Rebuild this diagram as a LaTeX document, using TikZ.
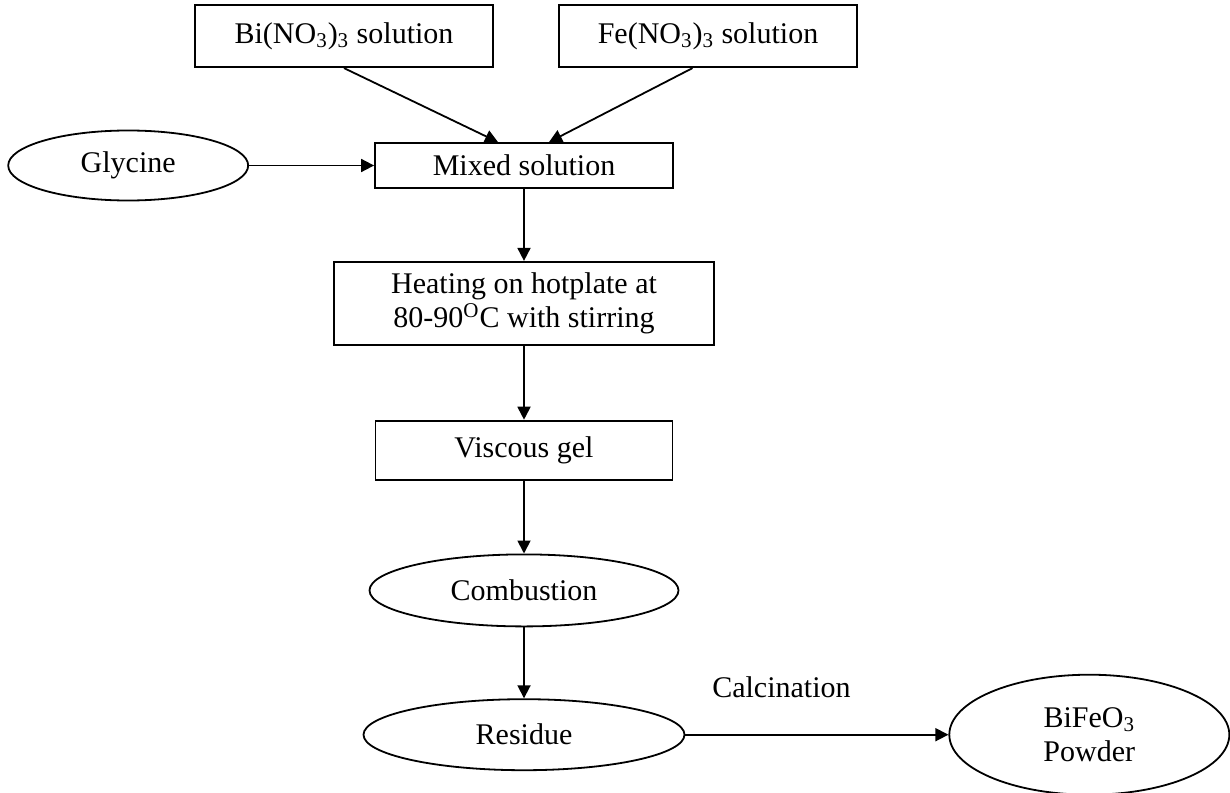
\documentclass[tikz,border=0pt]{standalone}
\usepackage{fontspec}
\setmainfont{Liberation Serif}
\usetikzlibrary{
  arrows.meta,
  shapes.geometric,
  positioning,
  calc
}
\tikzset{
  fcnode/.style={
    draw, line width=0.9pt, inner sep=2pt, align=center,
    font=\fontsize{15}{17}\selectfont
  },
  fcbox/.style={fcnode, rectangle},
  fcoval/.style={fcnode, ellipse, inner sep=0pt},
  fcflow/.style={-{Triangle[length=6.5pt, width=6.5pt]}, line width=0.9pt},
  fctag/.style={font=\fontsize{15}{17}\selectfont, inner sep=1pt}
}

\begin{document}
\begin{tikzpicture}[node distance=36pt]
  \useasboundingbox (0,0) rectangle (615pt,-396pt);
  \node[fcbox, minimum width=149pt, minimum height=22.5pt] (mix) at (262pt,-82.75pt) {Mixed solution};
  \node[fcbox, minimum width=149pt, minimum height=31pt, above=37pt of mix, xshift=-90pt] (bino)
    {Bi(NO\textsubscript{3})\textsubscript{3} solution};
  \node[fcbox, minimum width=149pt, minimum height=31pt, above=37pt of mix, xshift=92pt] (feno)
    {Fe(NO\textsubscript{3})\textsubscript{3} solution};
  \node[fcoval, minimum width=120pt, minimum height=35pt, left=62.5pt of mix] (gly) {Glycine};
  \node[fcbox, minimum width=190pt, minimum height=41.5pt, below=of mix] (heat)
    {Heating on hotplate at\\80-90\textsuperscript{O}C with stirring};
  \node[fcbox, minimum width=148.5pt, minimum height=29.5pt, below=37pt of heat] (gel) {Viscous gel};
  \node[fcoval, minimum width=154.5pt, minimum height=36pt, below=36.5pt of gel] (comb) {Combustion};
  \node[fcoval, minimum width=160.5pt, minimum height=35.5pt, below=35.5pt of comb] (res) {Residue};
  \node[fcoval, minimum width=140pt, minimum height=60pt, right=131.5pt of res] (bfo)
    {BiFeO\textsubscript{3}\\Powder};
  \node[fctag] (calc) at ($(res.east)+(48pt,23.5pt)$) {Calcination};

  \draw[fcflow] (bino.south) -- ($(mix.north)+(-13pt,0)$);
  \draw[fcflow] ($(feno.south)+(-7.75pt,0)$) -- ($(mix.north)+(12.5pt,0)$);
  \draw[fcflow] (gly.east) -- (mix.west);
  \draw[fcflow] (mix) -- (heat);
  \draw[fcflow] (heat) -- (gel);
  \draw[fcflow] (gel) -- (comb);
  \draw[fcflow] (comb) -- (res);
  \draw[fcflow] (res) -- (bfo);
\end{tikzpicture}
\end{document}
